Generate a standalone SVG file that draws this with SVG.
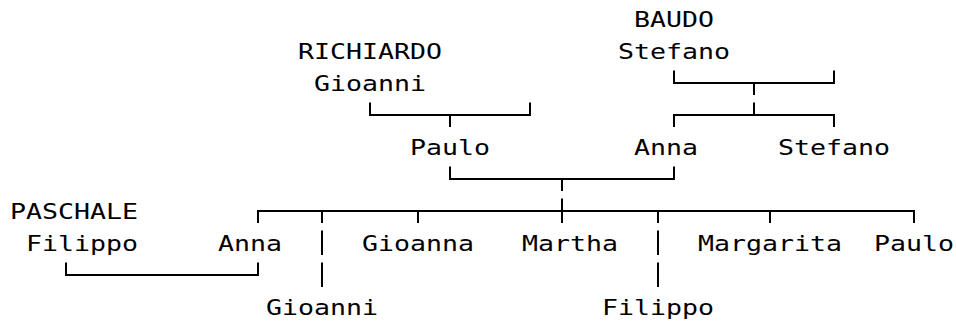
<svg xmlns="http://www.w3.org/2000/svg" width="956" height="321" viewBox="0 0 956 321">
<style>
  text { font-family: "DejaVu Sans Mono", "Liberation Mono", monospace; font-size: 21px; fill: #000; }
  .c path { fill: none; stroke: #000; stroke-width: 2; stroke-linejoin: miter; stroke-linecap: butt; }
</style>
<rect width="956" height="321" fill="#fff"/>
<g class="c" id="connectors">
  <path d="M674 70.5V83H834V70.5M754 83V95"/>
  <path d="M370 102.5V115H530V102.5M450 115V127"/>
  <path d="M674 127V115H834V127M754 115V102.5"/>
  <path d="M450 166.5V179H674V166.5M562 179V191"/>
  <path d="M258 223V211H914V223M322 211V223M418 211V223M562 198.5V223M658 211V223M770 211V223"/>
  <path d="M322 230.5V255M658 230.5V255"/>
  <path d="M66 262.5V275H258V262.5M322 262.5V287M658 262.5V287"/>
</g>
<g id="baudo-stefano">
  <text x="634" y="27" textLength="80" lengthAdjust="spacingAndGlyphs">BAUDO</text>
  <text x="618" y="59" textLength="112" lengthAdjust="spacingAndGlyphs">Stefano</text>
</g>
<g id="richiardo-gioanni">
  <text x="298" y="59" textLength="144" lengthAdjust="spacingAndGlyphs">RICHIARDO</text>
  <text x="314" y="91" textLength="112" lengthAdjust="spacingAndGlyphs">Gioanni</text>
</g>
<g id="paulo">
  <text x="410" y="155" textLength="80" lengthAdjust="spacingAndGlyphs">Paulo</text>
</g>
<g id="anna">
  <text x="634" y="155" textLength="64" lengthAdjust="spacingAndGlyphs">Anna</text>
</g>
<g id="stefano">
  <text x="778" y="155" textLength="112" lengthAdjust="spacingAndGlyphs">Stefano</text>
</g>
<g id="paschale-filippo">
  <text x="10" y="219" textLength="128" lengthAdjust="spacingAndGlyphs">PASCHALE</text>
  <text x="26" y="251" textLength="112" lengthAdjust="spacingAndGlyphs">Filippo</text>
</g>
<g id="anna-child">
  <text x="218" y="251" textLength="64" lengthAdjust="spacingAndGlyphs">Anna</text>
</g>
<g id="gioanna">
  <text x="362" y="251" textLength="112" lengthAdjust="spacingAndGlyphs">Gioanna</text>
</g>
<g id="martha">
  <text x="522" y="251" textLength="96" lengthAdjust="spacingAndGlyphs">Martha</text>
</g>
<g id="margarita">
  <text x="698" y="251" textLength="144" lengthAdjust="spacingAndGlyphs">Margarita</text>
</g>
<g id="paulo-child">
  <text x="874" y="251" textLength="80" lengthAdjust="spacingAndGlyphs">Paulo</text>
</g>
<g id="gioanni-child">
  <text x="266" y="315" textLength="112" lengthAdjust="spacingAndGlyphs">Gioanni</text>
</g>
<g id="filippo-child">
  <text x="602" y="315" textLength="112" lengthAdjust="spacingAndGlyphs">Filippo</text>
</g>
</svg>
